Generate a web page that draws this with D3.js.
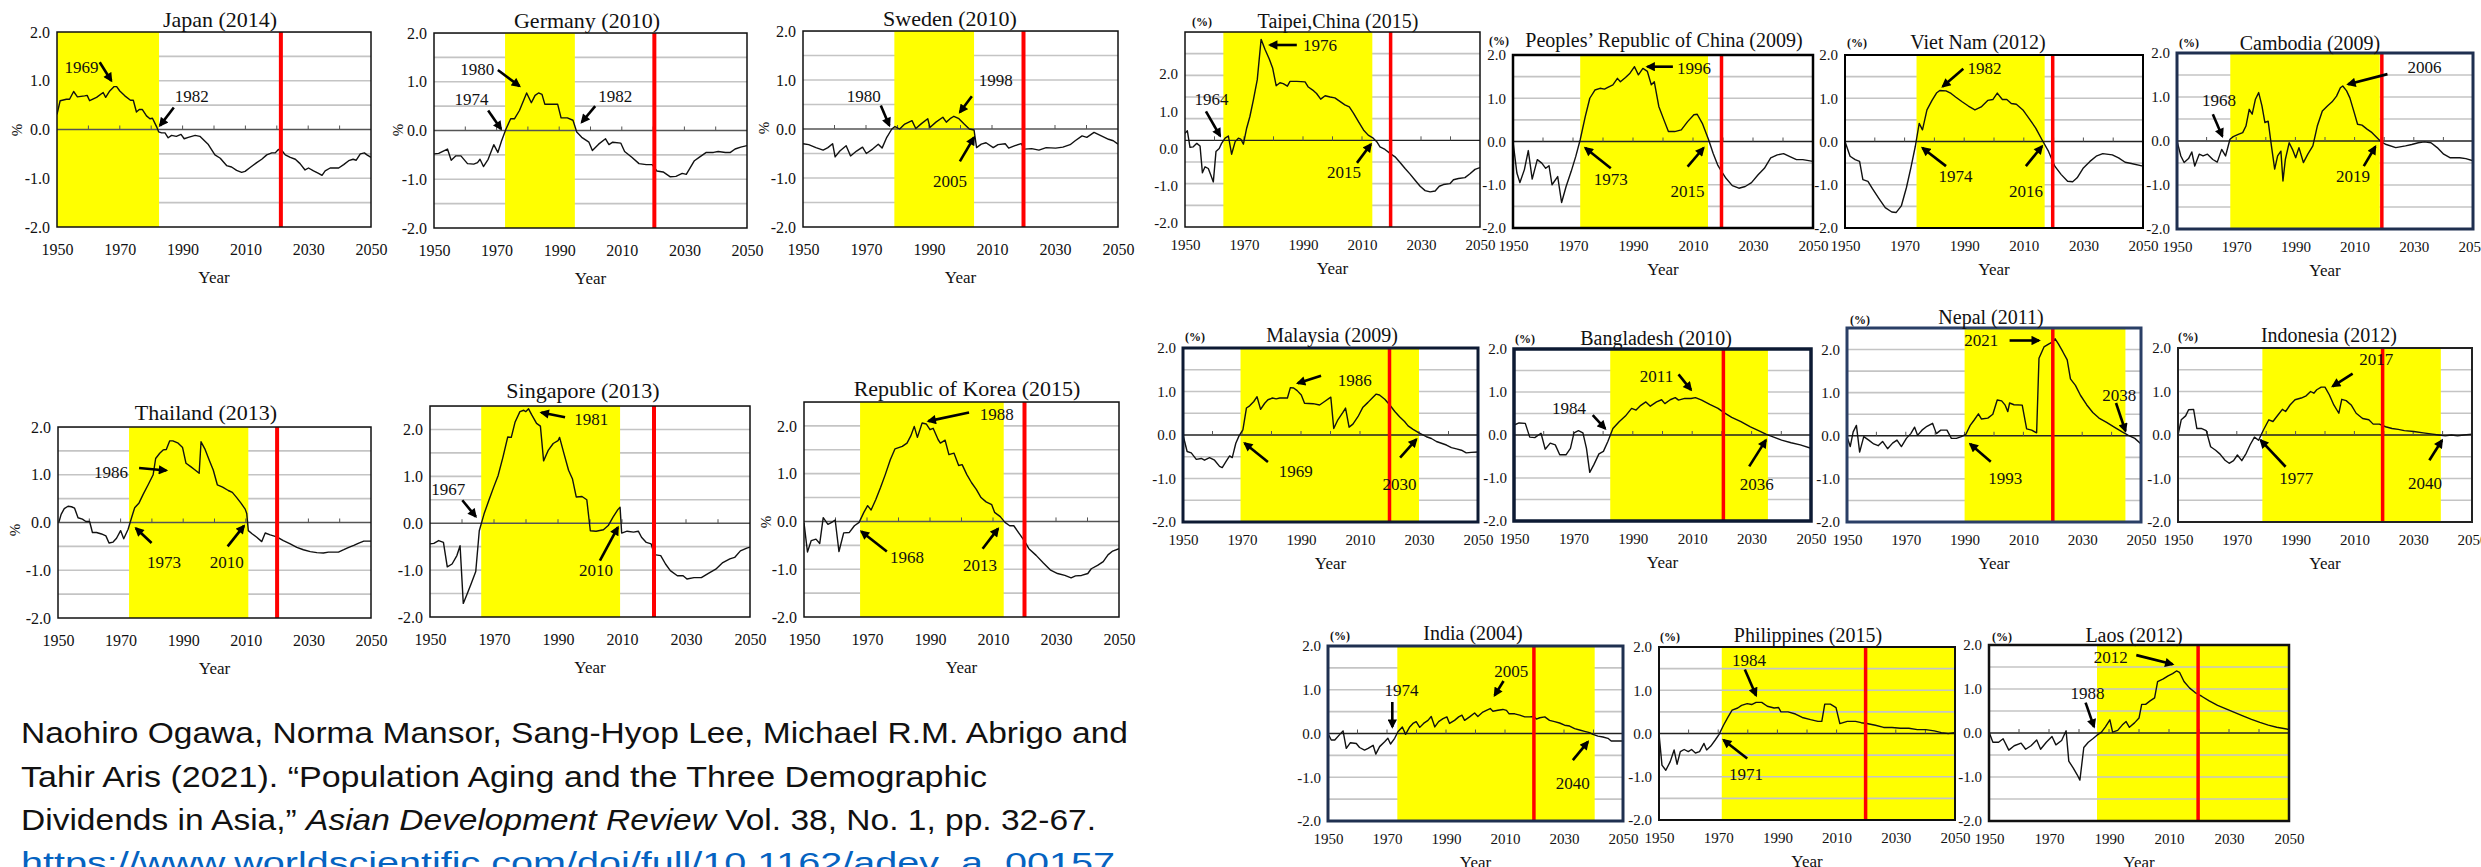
<!DOCTYPE html>
<html>
<head>
<meta charset="utf-8">
<script src="https://cdn.jsdelivr.net/npm/d3@7"></script>
<style>
  body { margin: 0; background: #fff; }
  svg { display: block; }
  text { font-family: 'Liberation Serif', 'Times New Roman', serif; fill: #111; }
</style>
</head>
<body>
<svg id="chart" width="2481" height="867"></svg>
<script>
// support ratio growth (%) by year
const japan = [[1950,0.31],[1951,0.59],[1953,0.62],[1954,0.62],[1955.3,0.78],[1956.5,0.67],[1958.8,0.69],[1959.6,0.7],[1960.4,0.59],[1962.6,0.66],[1964.7,0.76],[1965.5,0.66],[1966.8,0.79],[1968.2,0.88],[1969,0.88],[1970,0.79],[1971.6,0.69],[1973.4,0.6],[1974.3,0.6],[1975.3,0.36],[1976.2,0.41],[1977.2,0.41],[1978.5,0.28],[1979.6,0.22],[1980.4,0.23],[1981.7,0.06],[1982.4,-0.05],[1983.3,-0.07],[1984.4,-0.07],[1985.4,-0.17],[1986.5,-0.12],[1988,-0.14],[1989.5,-0.1],[1990.5,-0.19],[1991.8,-0.16],[1994,-0.12],[1995.5,-0.14],[1998.2,-0.31],[2000.3,-0.52],[2002,-0.59],[2004,-0.74],[2005.6,-0.77],[2007.2,-0.84],[2008.8,-0.88],[2009.9,-0.86],[2011.5,-0.78],[2013.6,-0.68],[2015.2,-0.61],[2016.8,-0.52],[2018.4,-0.48],[2019.5,-0.48],[2020.5,-0.41],[2021.6,-0.43],[2022.7,-0.52],[2024.3,-0.57],[2025.9,-0.61],[2027.4,-0.7],[2029,-0.83],[2030.1,-0.79],[2031.7,-0.85],[2033.3,-0.9],[2034.4,-0.94],[2035.4,-0.85],[2037,-0.79],[2039.7,-0.79],[2041.3,-0.72],[2042.9,-0.64],[2044.3,-0.61],[2045.3,-0.63],[2046.6,-0.5],[2047.9,-0.48],[2048.7,-0.52],[2050,-0.57]];
const germany = [[1950,-0.48],[1951.5,-0.47],[1954.3,-0.38],[1955.5,-0.61],[1957,-0.52],[1958.6,-0.52],[1960.7,-0.68],[1962.7,-0.69],[1963.9,-0.66],[1964.7,-0.59],[1965.8,-0.74],[1967.3,-0.59],[1969.1,-0.29],[1970.4,-0.45],[1971.6,-0.21],[1973,0.03],[1974.5,0.24],[1975.7,0.24],[1977.3,0.41],[1979.6,0.77],[1981.1,0.57],[1982.3,0.72],[1983.4,0.77],[1984.5,0.74],[1985.4,0.54],[1989.5,0.54],[1990.6,0.26],[1992.6,0.26],[1994.4,0.21],[1995.6,-0.03],[1997.2,-0.14],[1999.5,-0.24],[2000.6,-0.41],[2002.6,-0.28],[2004.8,-0.17],[2005.9,-0.29],[2007.1,-0.24],[2009.7,-0.26],[2010.9,-0.43],[2013.2,-0.55],[2015.5,-0.68],[2017.8,-0.7],[2019.7,-0.7],[2021.2,-0.83],[2023.2,-0.85],[2025.5,-0.95],[2027.3,-0.94],[2029.3,-0.88],[2030.6,-0.9],[2033.2,-0.62],[2034.7,-0.55],[2037,-0.45],[2039.3,-0.45],[2040.8,-0.43],[2043.1,-0.45],[2044.7,-0.45],[2046.2,-0.38],[2048,-0.34],[2050,-0.31]];
const sweden = [[1950,-0.3],[1951.8,-0.32],[1954.1,-0.38],[1956.4,-0.43],[1957.9,-0.38],[1959.4,-0.3],[1960.2,-0.57],[1961.7,-0.45],[1963.7,-0.34],[1965.1,-0.55],[1967,-0.45],[1968.9,-0.37],[1970.1,-0.5],[1972.1,-0.41],[1973.9,-0.31],[1975.1,-0.39],[1976.6,-0.17],[1978.2,0],[1979.2,0.05],[1980.7,0],[1982.3,0.1],[1984.6,0.17],[1985.8,0.01],[1987.6,0.11],[1989.6,0.21],[1990.3,0.03],[1992.2,0.14],[1994.4,0.24],[1995.5,0.14],[1996.7,0.21],[1997.9,0.26],[1999.5,0.21],[2001,0.11],[2002.8,0],[2004.3,-0.02],[2005.1,-0.38],[2006.6,-0.31],[2008.1,-0.28],[2010.4,-0.38],[2011.9,-0.32],[2014.2,-0.3],[2015.3,-0.39],[2017.3,-0.34],[2019.3,-0.3],[2020.3,-0.41],[2022.6,-0.4],[2024.9,-0.43],[2027.2,-0.38],[2030.2,-0.39],[2032.5,-0.37],[2034.8,-0.32],[2036.4,-0.24],[2038.6,-0.14],[2040.1,-0.17],[2042.4,-0.07],[2044.7,-0.14],[2047,-0.21],[2048.5,-0.24],[2050,-0.31]];
const thailand = [[1950.3,0.01],[1951,0.17],[1952,0.29],[1953.2,0.34],[1954.3,0.33],[1955.3,0.3],[1956.4,0.1],[1957.8,0.07],[1958.9,0.02],[1960.1,0.02],[1961,-0.21],[1962.3,-0.21],[1963.9,-0.24],[1965.3,-0.28],[1966.3,-0.43],[1967.6,-0.41],[1968.7,-0.33],[1970,-0.17],[1971,-0.34],[1972.4,-0.14],[1973.5,0.1],[1974.5,0.31],[1975.9,0.41],[1977.2,0.59],[1978.8,0.79],[1980.4,1],[1981.2,1.34],[1982.5,1.45],[1983.6,1.52],[1984.6,1.53],[1985.7,1.71],[1986.7,1.71],[1988.4,1.66],[1989.8,1.57],[1990.9,1.24],[1992.4,1.17],[1993.8,1.1],[1995.1,1.03],[1995.7,1.69],[1997,1.53],[1998.3,1.31],[1999.6,1.1],[2000.9,0.79],[2002.6,0.74],[2004.4,0.67],[2005.7,0.63],[2007.1,0.52],[2008.4,0.41],[2009.8,0.28],[2010.3,0.19],[2010.8,-0.17],[2012.1,-0.24],[2013.5,-0.31],[2015.1,-0.4],[2016.2,-0.22],[2017.8,-0.26],[2019.9,-0.3],[2022,-0.38],[2024.2,-0.45],[2026.3,-0.52],[2028.4,-0.57],[2030.6,-0.61],[2032.7,-0.63],[2034.8,-0.64],[2036.4,-0.62],[2039.6,-0.62],[2041.3,-0.57],[2042.9,-0.52],[2044.5,-0.48],[2046.1,-0.43],[2047.7,-0.39],[2050,-0.39]];
const singapore = [[1950,-0.44],[1951.2,-0.43],[1952.7,-0.37],[1954.2,-0.41],[1955.4,-0.93],[1956.9,-0.87],[1958.4,-0.69],[1959.4,-0.48],[1960.4,-1.71],[1961.6,-1.51],[1962.8,-1.3],[1964.3,-1.03],[1965.4,-0.16],[1966.9,0.2],[1968.4,0.49],[1969.9,0.77],[1971.3,1.02],[1972.8,1.41],[1974.3,1.84],[1975.4,1.83],[1976.6,2.16],[1978.1,2.38],[1979.3,2.41],[1979.9,2.38],[1980.8,2.44],[1981.8,2.31],[1983.3,2.13],[1984.5,2.07],[1985.5,1.33],[1987,1.56],[1988.5,1.7],[1990,1.76],[1990.5,1.83],[1991.8,1.5],[1993.3,1.13],[1994.5,0.95],[1995.7,0.56],[1997.5,0.57],[1999,0.5],[2000.1,-0.16],[2001.9,-0.17],[2004.2,-0.14],[2005.7,-0.05],[2007.2,0.13],[2008.7,0.29],[2009.4,0.34],[2009.9,-0.21],[2011.6,-0.17],[2013.6,-0.19],[2015.1,-0.17],[2016.1,-0.3],[2017.6,-0.41],[2019.1,-0.44],[2020.1,-0.67],[2022.1,-0.69],[2023.6,-0.87],[2025.1,-1.01],[2027.3,-1.12],[2029.1,-1.12],[2030.3,-1.19],[2032.5,-1.16],[2034.8,-1.16],[2037,-1.07],[2039.3,-0.98],[2041.5,-0.84],[2043.7,-0.76],[2045.2,-0.73],[2047,-0.59],[2049,-0.53],[2050,-0.51]];
const korea = [[1950,-0.03],[1951.1,-0.64],[1952.3,-0.4],[1953.8,-0.37],[1955,-0.46],[1956.1,0.08],[1957.6,-0.06],[1958.8,-0.02],[1959.9,0.03],[1961.1,-0.63],[1962.6,-0.24],[1964.4,-0.23],[1966,-0.09],[1967.5,-0.02],[1969,0.19],[1970.2,0.33],[1971.3,0.24],[1972.8,0.46],[1974.3,0.71],[1975.8,0.98],[1977.4,1.29],[1978.9,1.52],[1981.2,1.57],[1982.7,1.64],[1983.9,1.79],[1985,1.99],[1986,1.76],[1987.5,2.06],[1988.8,2.04],[1990,1.92],[1991,1.95],[1992.6,1.71],[1993.3,1.64],[1994.8,1.7],[1996,1.4],[1997.6,1.43],[1999.1,1.17],[2000.2,1.19],[2001.7,0.98],[2003.2,0.81],[2004.7,0.67],[2006.2,0.5],[2007.8,0.41],[2009.6,0.35],[2010.5,0.19],[2012.3,0.1],[2013.8,-0.02],[2015.3,-0.09],[2016.6,-0.09],[2018.4,-0.26],[2019.9,-0.4],[2021.4,-0.57],[2023.7,-0.71],[2026,-0.87],[2028.3,-1.02],[2030.5,-1.09],[2032.8,-1.13],[2034.8,-1.18],[2036.2,-1.14],[2038.1,-1.13],[2040.1,-1.09],[2041.2,-0.99],[2043.2,-0.92],[2045,-0.84],[2046.5,-0.7],[2048,-0.62],[2050,-0.57]];
const taipei = [[1950,0.16],[1950.8,0.22],[1951.7,-0.16],[1952.8,-0.15],[1954,-0.07],[1955.1,-0.13],[1955.9,-0.75],[1956.8,-0.61],[1957.9,-0.65],[1958.8,-0.81],[1959.6,-0.96],[1960.5,-0.26],[1961.6,-0.19],[1962.4,-0.07],[1963.6,0.05],[1964.7,0.1],[1965.8,-0.32],[1967,-0.03],[1968.1,0.05],[1968.9,0.03],[1969.8,-0.09],[1970.9,0.28],[1972,0.55],[1973.2,0.94],[1974.5,1.4],[1975.8,2.33],[1977.1,2.1],[1978.6,1.87],[1979.7,1.67],[1980.9,1.26],[1982.2,1.33],[1983.3,1.31],[1984.7,1.25],[1985.6,1.36],[1987.9,1.36],[1990.7,1.35],[1991.8,1.23],[1993.3,1.16],[1994.6,1.08],[1996,0.95],[1997.5,1.03],[1999.2,1],[2000.8,0.98],[2002.5,0.9],[2004.2,0.82],[2005.7,0.77],[2007.1,0.63],[2008.8,0.43],[2010.5,0.24],[2012.1,0.12],[2013.8,0.05],[2015,-0.03],[2016.1,-0.15],[2017.8,-0.21],[2019.5,-0.3],[2021.2,-0.38],[2022.9,-0.51],[2024.6,-0.65],[2026.3,-0.78],[2028,-0.92],[2029.7,-1.06],[2031.4,-1.16],[2033.1,-1.19],[2034.8,-1.17],[2036.2,-1.06],[2037.6,-1.02],[2039.8,-1],[2041,-0.91],[2042.7,-0.88],[2044.9,-0.86],[2046.6,-0.77],[2048.3,-0.67],[2050,-0.63]];
const china = [[1950,0],[1951.3,-0.73],[1952.3,-0.95],[1953.8,-0.65],[1955.1,-0.21],[1956.4,-0.87],[1958.1,-0.42],[1959.6,-0.5],[1960.9,-0.62],[1962,-0.56],[1963,-1],[1964.9,-0.81],[1966.2,-1.41],[1967.7,-1.04],[1969.4,-0.69],[1970.9,-0.35],[1972.4,0.04],[1974.1,0.58],[1975.6,1],[1977.3,1.19],[1979,1.23],[1980.5,1.21],[1981.6,1.25],[1983.3,1.31],[1984.8,1.46],[1985.8,1.38],[1987.5,1.48],[1989,1.58],[1990.5,1.73],[1991.8,1.54],[1993.3,1.69],[1994.8,1.62],[1996.1,1.31],[1997.1,1.38],[1998.6,0.81],[2000.3,0.5],[2001.8,0.23],[2003.9,0.23],[2006.1,0.27],[2008.2,0.46],[2010.3,0.62],[2011.4,0.63],[2013.1,0.42],[2015.2,0.04],[2016.7,-0.27],[2018.2,-0.54],[2019.5,-0.69],[2021,-0.85],[2023.1,-1.02],[2025.3,-1.08],[2027.4,-1.04],[2029.5,-0.95],[2031.7,-0.77],[2033.8,-0.62],[2035.9,-0.38],[2038.1,-0.31],[2040.2,-0.28],[2042.3,-0.35],[2044.5,-0.42],[2046.6,-0.42],[2050,-0.46]];
const vietnam = [[1950,0],[1951.7,-0.34],[1953.4,-0.42],[1954.9,-0.46],[1956,-0.88],[1957.7,-0.92],[1959.2,-1.09],[1961.4,-1.32],[1963.5,-1.53],[1965.7,-1.63],[1967.2,-1.64],[1968.9,-1.49],[1970.6,-1.07],[1972.1,-0.61],[1973.6,-0.11],[1974.9,0.42],[1976,0.27],[1977.5,0.73],[1979.2,0.95],[1980.7,1.12],[1981.8,1.18],[1983.9,1.17],[1985.6,1.11],[1987.1,1.03],[1989.3,0.92],[1991.4,0.82],[1993.6,0.73],[1995.7,0.8],[1997.9,0.95],[1999.6,0.97],[2001.1,1.12],[2002.8,0.97],[2004.3,0.97],[2005.8,0.88],[2007.5,0.86],[2009.7,0.73],[2011.8,0.53],[2014,0.31],[2016.1,0.04],[2018.3,-0.23],[2020.4,-0.57],[2022.5,-0.76],[2024.7,-0.92],[2026.4,-0.93],[2027.9,-0.84],[2030,-0.61],[2032.2,-0.46],[2034.3,-0.34],[2036.5,-0.28],[2039.7,-0.31],[2041.8,-0.38],[2044,-0.48],[2046.1,-0.51],[2050,-0.57]];
const cambodia = [[1950,0],[1951.3,-0.34],[1952.4,-0.49],[1953.9,-0.4],[1955,-0.25],[1956,-0.57],[1957.5,-0.3],[1958.8,-0.34],[1960.3,-0.3],[1962.1,-0.42],[1963.6,-0.48],[1965.1,-0.19],[1966.4,-0.34],[1967.9,0.04],[1969,0.1],[1970.7,0.15],[1972.2,0.19],[1973.3,0.34],[1974.4,0.72],[1975.4,0.61],[1976.5,0.95],[1977.6,1.1],[1978.7,0.8],[1979.7,0.42],[1980.8,0.45],[1981.9,-0.11],[1983,-0.64],[1984,-0.34],[1985.1,-0.23],[1985.8,-0.91],[1986.6,-0.42],[1987.9,-0.04],[1989,-0.19],[1990.1,-0.38],[1991.2,-0.15],[1992.7,-0.49],[1994.2,-0.3],[1995.9,-0.11],[1997.4,0.34],[1999.1,0.68],[2000.9,0.8],[2002.4,0.89],[2003.9,1.02],[2005.2,1.21],[2006,1.25],[2007.3,1.14],[2008.4,0.98],[2009.9,0.64],[2011,0.38],[2012.5,0.36],[2014.2,0.27],[2015.9,0.19],[2017.5,0.08],[2019,-0.02],[2020.7,-0.08],[2023.9,-0.15],[2027.2,-0.11],[2029.3,-0.08],[2031.5,-0.04],[2033.6,-0.02],[2035.8,-0.04],[2037.9,-0.15],[2040.1,-0.3],[2042.2,-0.38],[2045.5,-0.38],[2047.6,-0.4],[2050,-0.45]];
const malaysia = [[1950,0],[1951.4,-0.38],[1952.8,-0.41],[1954.5,-0.56],[1956.2,-0.54],[1957.3,-0.58],[1959,-0.52],[1960.7,-0.58],[1962.4,-0.72],[1963.3,-0.75],[1964.5,-0.62],[1965.8,-0.48],[1966.7,-0.52],[1967.9,-0.19],[1969,-0.02],[1970.3,0.12],[1971.5,0.62],[1972.6,0.67],[1974,0.77],[1975.1,0.88],[1976.3,0.59],[1977.7,0.73],[1978.8,0.81],[1980.3,0.85],[1981.6,0.83],[1982.8,0.85],[1985.4,0.85],[1986.4,1.09],[1987.5,1.08],[1988.7,1.02],[1990.1,0.92],[1991.2,0.73],[1994.1,0.72],[1996.3,0.69],[1998,0.77],[2000.1,0.87],[2001.1,0.15],[2002.5,0.35],[2004.2,0.52],[2005.1,0.62],[2006.3,0.18],[2007.6,0.25],[2009.3,0.42],[2011,0.64],[2012.7,0.75],[2014.4,0.87],[2015.5,0.94],[2016.6,0.92],[2018.4,0.82],[2020.1,0.69],[2021.8,0.54],[2023.4,0.42],[2025.1,0.31],[2026.3,0.21],[2028,0.13],[2029.7,0.06],[2030.8,0.02],[2032.5,-0.04],[2034.2,-0.08],[2035.9,-0.15],[2037.6,-0.19],[2039.3,-0.23],[2041,-0.29],[2042.7,-0.32],[2044.4,-0.35],[2046,-0.41],[2047.7,-0.4],[2050,-0.39]];
const bangladesh = [[1950,0.23],[1951.7,0.28],[1953.8,0.27],[1955.3,-0.05],[1957,-0.06],[1959.1,0.04],[1960.5,-0.33],[1962.2,-0.19],[1963.9,-0.23],[1965.4,-0.46],[1967.5,-0.46],[1969,-0.31],[1970.2,0.05],[1971.7,0.1],[1973.2,0.05],[1974.4,-0.31],[1975.5,-0.87],[1976.9,-0.69],[1978.6,-0.44],[1980.1,-0.38],[1981.6,-0.15],[1983.3,0.15],[1985.4,0.31],[1987.5,0.44],[1989.6,0.62],[1991.1,0.58],[1992.7,0.69],[1994.4,0.77],[1995.9,0.67],[1998,0.77],[1999.7,0.82],[2000.8,0.73],[2002.6,0.82],[2004.3,0.87],[2005.4,0.81],[2007.5,0.85],[2009.6,0.85],[2011.1,0.87],[2013.2,0.81],[2015.9,0.71],[2018.7,0.62],[2020.7,0.52],[2023.3,0.41],[2026.4,0.31],[2029.6,0.19],[2032.7,0.09],[2034.8,0.02],[2037,-0.04],[2040.1,-0.12],[2043.3,-0.18],[2046.4,-0.23],[2050,-0.31]];
const nepal = [[1950,-0.02],[1951.1,-0.25],[1952.1,0.09],[1953.2,0.24],[1954.3,-0.38],[1955.7,-0.02],[1957.4,-0.1],[1959.1,-0.19],[1960.6,-0.23],[1962.1,-0.13],[1963.8,-0.3],[1965.5,-0.17],[1967,-0.1],[1968.5,-0.25],[1970.2,-0.06],[1971.7,0.05],[1973,0.2],[1974,0.01],[1975.5,0.13],[1977.2,0.22],[1979.1,0.29],[1980.4,0.05],[1981.9,0.13],[1984,0.13],[1985.5,-0.06],[1987.2,-0.06],[1988.9,-0.02],[1990.4,0.03],[1991.9,0.24],[1993.2,0.36],[1994.7,0.51],[1995.7,0.39],[1997.9,0.41],[1999.6,0.5],[2001.1,0.83],[2002.6,0.81],[2003.8,0.71],[2004.7,0.56],[2005.3,0.76],[2006.8,0.72],[2009.6,0.71],[2011.1,0.16],[2012.8,0.13],[2014.5,0.07],[2015.3,1.8],[2017,2.06],[2018.7,2.13],[2019.8,2.17],[2020.8,2.25],[2021.9,2.13],[2023.4,1.95],[2024.9,1.76],[2026,1.32],[2027.7,1.17],[2029.4,0.94],[2031.5,0.72],[2033.6,0.54],[2035.7,0.41],[2038.3,0.31],[2040.9,0.2],[2043.6,0.09],[2045.7,0.01],[2047.9,-0.06],[2050,-0.19]];
const indonesia = [[1950,0],[1951.1,0.35],[1952.6,0.44],[1953.6,0.58],[1955.3,0.59],[1956.4,0.15],[1957.9,0.15],[1959.6,0.1],[1961.1,-0.27],[1962.8,-0.35],[1964.3,-0.44],[1966,-0.58],[1967.4,-0.65],[1968.9,-0.59],[1970.2,-0.46],[1971.7,-0.59],[1973.2,-0.42],[1974.5,-0.23],[1976,-0.05],[1977.4,-0.12],[1979.1,0.12],[1980.9,0.35],[1982.3,0.31],[1984,0.46],[1985.5,0.59],[1986.6,0.54],[1988.1,0.69],[1989.8,0.81],[1991.9,0.85],[1993.6,0.9],[1995.1,1],[1996.2,0.96],[1997.2,1.04],[1998.7,1.1],[2000,1.1],[2001.5,0.92],[2003,0.69],[2004.7,0.5],[2005.7,0.82],[2007.2,0.79],[2008.9,0.69],[2010.6,0.5],[2012.8,0.38],[2014.9,0.35],[2016.4,0.25],[2018.5,0.25],[2020.6,0.19],[2022.8,0.15],[2024.9,0.13],[2027,0.1],[2030.2,0.08],[2033.4,0.05],[2036.6,0.02],[2038.7,0],[2040.9,-0.02],[2043,0],[2045.1,-0.02],[2047.2,0],[2050,0.02]];
const india = [[1950,0],[1951.1,-0.15],[1952.3,-0.15],[1954,-0.02],[1955.1,0.06],[1956.2,-0.34],[1957.6,-0.21],[1959.6,-0.23],[1960.7,-0.32],[1962.4,-0.38],[1963.6,-0.34],[1965.3,-0.27],[1966.2,-0.47],[1967.5,-0.3],[1969.2,-0.19],[1970.3,-0.11],[1971.2,-0.24],[1972.6,-0.11],[1973.7,0.04],[1975.2,0.15],[1976.3,-0.02],[1977.7,0.15],[1978.8,0.23],[1979.9,0.27],[1981.1,0.14],[1982.4,0.23],[1983.9,0.3],[1985,0.39],[1986.2,0.15],[1987.5,0.27],[1989,0.34],[1990.3,0.38],[1991.2,0.23],[1992.9,0.3],[1994.3,0.38],[1995.4,0.42],[1996.3,0.3],[1998,0.38],[1999.7,0.47],[2000.8,0.39],[2002.5,0.49],[2003.7,0.53],[2005,0.57],[2005.9,0.51],[2007.6,0.53],[2009.3,0.55],[2010.5,0.53],[2011.4,0.45],[2013.3,0.45],[2015,0.42],[2016.7,0.38],[2018.4,0.38],[2019.8,0.39],[2020.6,0.33],[2021.8,0.36],[2023.5,0.38],[2025.1,0.3],[2026.8,0.27],[2028.5,0.24],[2030.2,0.19],[2031.9,0.17],[2033.6,0.11],[2035.3,0.08],[2037,0.05],[2038.7,0.02],[2039.8,-0.02],[2041.5,-0.06],[2043.2,-0.08],[2044.9,-0.11],[2046,-0.17],[2047.7,-0.17],[2050,-0.17]];
const philippines = [[1950,0],[1951,-0.73],[1952.3,-0.85],[1953.8,-0.65],[1955.1,-0.38],[1956.1,-0.71],[1957.2,-0.42],[1958.5,-0.37],[1959.9,-0.42],[1961,-0.37],[1962.3,-0.45],[1963.7,-0.42],[1965.2,-0.23],[1966.1,-0.38],[1967.5,-0.29],[1969,-0.15],[1970.3,-0.02],[1971.8,0.19],[1973.3,0.38],[1974.7,0.54],[1976.6,0.59],[1977.9,0.65],[1979.8,0.69],[1981.3,0.67],[1982.8,0.72],[1984.7,0.72],[1986.6,0.63],[1988.9,0.59],[1990.4,0.6],[1991.2,0.5],[1993.6,0.5],[1996.1,0.45],[1998.4,0.37],[2001.2,0.32],[2003.7,0.28],[2005,0.28],[2006,0.68],[2007.9,0.68],[2009.8,0.6],[2011.1,0.23],[2013.6,0.28],[2016.4,0.28],[2018.3,0.25],[2020.2,0.23],[2023.1,0.19],[2025.9,0.14],[2028.7,0.14],[2031.6,0.12],[2034.4,0.12],[2037.3,0.09],[2040.1,0.09],[2043,0.06],[2045.4,0.02],[2047.7,0],[2050,0.02]];
const laos = [[1950,0.02],[1951.3,-0.21],[1953.2,-0.21],[1954.7,-0.13],[1956.6,-0.39],[1958.4,-0.29],[1960.7,-0.23],[1962.2,-0.37],[1964,-0.29],[1965.9,-0.16],[1967.2,-0.37],[1969.1,-0.21],[1971,-0.08],[1972.3,-0.27],[1974.2,-0.17],[1975.7,0.05],[1976.6,-0.64],[1978.1,-0.8],[1979.4,-0.95],[1980.3,-1.07],[1981.6,-0.33],[1983.1,-0.21],[1984.6,-0.13],[1986,-0.05],[1987.5,0.02],[1988.8,0.14],[1990.3,0.3],[1991.2,0.02],[1992.9,0.06],[1994.4,0.18],[1995.7,0.26],[1996.8,0.13],[1998.5,0.23],[2000,0.34],[2000.9,0.65],[2002.2,0.65],[2003.7,0.73],[2005.2,0.8],[2006.2,1.17],[2008.1,1.23],[2009.7,1.3],[2011.2,1.35],[2012.5,1.41],[2013.5,1.38],[2015,1.17],[2016.9,1.02],[2018.7,0.92],[2021,0.83],[2023.4,0.73],[2026.2,0.63],[2029,0.55],[2031.8,0.47],[2034.6,0.39],[2037.5,0.31],[2040.3,0.24],[2043.1,0.18],[2045.9,0.13],[2050,0.08]];

const xTickYears = [1950, 1970, 1990, 2010, 2030, 2050];
const yTickValues = [-2, -1, 0, 1, 2];
const decadeYears = [1960, 1970, 1980, 1990, 2000, 2010, 2020, 2030, 2040];

// annotation rows: label, text year, text value, arrow from year, value, arrow to year, value
const panels = [
  { title: 'Japan (2014)', series: japan, span: [1950, 1982.5], red: 2021.3, top: 2, side: 'L',
    box: [57, 32, 371, 227], tx: 220, ty: 19, pct: [17, 130], border: ['#111', 1.5],
    notes: [['1969', 1957.8, 1.28, 1963.6, 1.38, 1967.3, 1.0], ['1982', 1992.9, 0.68, 1987.2, 0.45, 1982.8, 0.08]] },
  { title: 'Germany (2010)', series: germany, span: [1972.7, 1995], red: 2020.4, top: 2, side: 'L',
    box: [434, 33, 747, 228], tx: 587, ty: 20, pct: [398, 130], border: ['#111', 1.5],
    notes: [['1974', 1962, 0.64, 1967.3, 0.41, 1971.4, 0.03], ['1980', 1963.8, 1.26, 1970.4, 1.24, 1977.3, 0.91], ['1982', 2007.9, 0.69, 2001.5, 0.5, 1997.2, 0.17]] },
  { title: 'Sweden (2010)', series: sweden, span: [1979, 2004.3], red: 2020, top: 2, side: 'L',
    box: [803, 31, 1118, 227], tx: 950, ty: 18, pct: [764, 128], border: ['#111', 1.5],
    notes: [['1980', 1969.3, 0.66, 1974.7, 0.48, 1977.4, 0.07], ['1998', 2011.2, 1.0, 2003.6, 0.67, 1999.8, 0.34], ['2005', 1996.7, -1.07, 1999.8, -0.66, 2004.3, -0.17]] },
  { title: 'Thailand (2013)', series: thailand, span: [1972.7, 2010.8], red: 2020, top: 2, side: 'L',
    box: [58, 427, 371, 618], tx: 206, ty: 412, pct: [15, 530], border: ['#111', 1.5],
    notes: [['1986', 1966.9, 1.05, 1975.9, 1.14, 1984.6, 1.09], ['1973', 1983.9, -0.84, 1979.9, -0.43, 1974.9, -0.12], ['2010', 2003.9, -0.84, 2004.2, -0.5, 2009.4, -0.07]] },
  { title: 'Singapore (2013)', series: singapore, span: [1966, 2009.4], red: 2020, top: 2.5, side: 'L',
    box: [430, 406, 750, 617], tx: 583, ty: 390, pct: null, border: ['#111', 1.5],
    notes: [['1967', 1955.7, 0.71, 1960.1, 0.49, 1964.3, 0.14], ['1981', 2000.4, 2.21, 1992.2, 2.26, 1984.8, 2.36], ['2010', 2001.9, -1.0, 2003.1, -0.8, 2008.7, -0.09]] },
  { title: 'Republic of Korea (2015)', series: korea, span: [1967.8, 2013.4], red: 2020, top: 2.5, side: 'L',
    box: [804, 402, 1119, 617], tx: 967, ty: 388, pct: [766, 522], border: ['#111', 1.5],
    notes: [['1988', 2011.2, 2.23, 2002.4, 2.28, 1989.5, 2.1], ['1968', 1982.7, -0.75, 1976.3, -0.63, 1968.2, -0.21], ['2013', 2005.9, -0.93, 2006.7, -0.57, 2011.6, -0.15]] },
  { title: 'Taipei,China (2015)', series: taipei, span: [1963, 2013.5], red: 2019.7, top: 2.5, side: 'R',
    box: [1185, 32, 1480, 227], tx: 1338, ty: 21, pct: [1202, 22], border: ['#111', 1.5], labelRange: [223, 74],
    notes: [['1976', 1995.8, 2.18, 1987.9, 2.2, 1978.8, 2.2], ['1964', 1959, 0.95, 1957.1, 0.67, 1961.9, 0.1], ['2015', 2003.9, -0.75, 2008.3, -0.52, 2013, -0.09]] },
  { title: 'Peoples\u2019 Republic of China (2009)', series: china, span: [1972.4, 2015], red: 2019.5, top: 2, side: 'R',
    box: [1513, 55, 1813, 228], tx: 1664, ty: 40, pct: [1499, 41], border: ['#000', 2.5],
    notes: [['1996', 2010.3, 1.69, 2003.3, 1.73, 1994.8, 1.73], ['1973', 1982.6, -0.88, 1982.6, -0.62, 1974.1, -0.15], ['2015', 2008.2, -1.15, 2008.2, -0.58, 2013.5, -0.15]] },
  { title: 'Viet Nam (2012)', series: vietnam, span: [1974, 2017], red: 2019.7, top: 2, side: 'R',
    box: [1845, 55, 2143, 228], tx: 1978, ty: 42, pct: [1857, 43], border: ['#000', 2],
    notes: [['1982', 1996.8, 1.68, 1989.7, 1.68, 1982.8, 1.27], ['1974', 1987.1, -0.82, 1983.9, -0.57, 1976, -0.15], ['2016', 2010.7, -1.15, 2010.7, -0.57, 2016.1, -0.11]] },
  { title: 'Cambodia (2009)', series: cambodia, span: [1968, 2018.5], red: 2019.2, top: 2, side: 'R',
    box: [2177, 53, 2473, 229], tx: 2310, ty: 43, pct: [2189, 43], border: ['#1f2f50', 3],
    notes: [['2006', 2033.6, 1.67, 2021.1, 1.52, 2007.8, 1.29], ['1968', 1964.2, 0.91, 1962.1, 0.61, 1965.3, 0.11], ['2019', 2009.5, -0.8, 2013.1, -0.57, 2017, -0.13]] },
  { title: 'Malaysia (2009)', series: malaysia, span: [1969.5, 2030], red: 2020, top: 2, side: 'R',
    box: [1183, 348, 1478, 522], tx: 1332, ty: 335, pct: [1195, 337], border: ['#0d1a33', 3],
    notes: [['1986', 2008.2, 1.25, 1996.8, 1.36, 1988.9, 1.19], ['1969', 1988.2, -0.85, 1978.8, -0.62, 1970.9, -0.19], ['2030', 2023.4, -1.13, 2023.6, -0.52, 2029.1, -0.1]] },
  { title: 'Bangladesh (2010)', series: bangladesh, span: [1982.4, 2035.5], red: 2020.5, top: 2, side: 'R',
    box: [1514, 349, 1811, 521], tx: 1656, ty: 338, pct: [1525, 339], border: ['#0d1a33', 3.5],
    notes: [['1984', 1968.5, 0.62, 1976.5, 0.46, 1980.7, 0.15], ['2011', 1998, 1.35, 2005.4, 1.41, 2009.6, 1.05], ['2036', 2031.7, -1.15, 2029.2, -0.73, 2034.8, -0.12]] },
  { title: 'Nepal (2011)', series: nepal, span: [1990, 2044.7], red: 2020, top: 2.5, side: 'R',
    box: [1847, 328, 2141, 522], tx: 1991, ty: 317, pct: [1860, 320], border: ['#2a3f66', 3],
    notes: [['2021', 1995.7, 2.21, 2005.3, 2.21, 2015.3, 2.21], ['1993', 2003.8, -0.99, 1998.9, -0.6, 1991.9, -0.19], ['2038', 2042.6, 0.94, 2041.5, 0.76, 2044.7, 0.11]] },
  { title: 'Indonesia (2012)', series: indonesia, span: [1978.7, 2039.4], red: 2019.6, top: 2, side: 'R',
    box: [2178, 348, 2472, 522], tx: 2329, ty: 335, pct: [2188, 337], border: ['#222', 2],
    notes: [['2017', 2017.4, 1.73, 2009.4, 1.41, 2002.6, 1.12], ['1977', 1990.2, -1.0, 1986.6, -0.73, 1978.1, -0.12], ['2040', 2034, -1.12, 2035.5, -0.58, 2039.8, -0.12]] },
  { title: 'India (2004)', series: india, span: [1973.5, 2040.4], red: 2019.8, top: 2, side: 'R',
    box: [1328, 646, 1623, 821], tx: 1473, ty: 633, pct: [1340, 636], border: ['#1f3050', 3],
    notes: [['1974', 1974.9, 0.98, 1971.8, 0.72, 1971.8, 0.15], ['2005', 2012.1, 1.42, 2009.5, 1.2, 2006.5, 0.87], ['2040', 2033, -1.15, 2033, -0.61, 2038.1, -0.19]] },
  { title: 'Philippines (2015)', series: philippines, span: [1971.2, 2050], red: 2019.8, top: 2, side: 'R', gridOver: true,
    box: [1659, 647, 1955, 820], tx: 1808, ty: 635, pct: [1670, 637], border: ['#111', 2],
    notes: [['1984', 1980.4, 1.69, 1979, 1.48, 1982.8, 0.88], ['1971', 1979.4, -0.94, 1979.8, -0.58, 1971.8, -0.15]] },
  { title: 'Laos (2012)', series: laos, span: [1986, 2050], red: 2019.7, top: 2, side: 'R', gridOver: true,
    box: [1989, 645, 2289, 821], tx: 2134, ty: 635, pct: [2002, 637], border: ['#111', 2.5],
    notes: [['2012', 1990.6, 1.72, 1999.1, 1.77, 2011.2, 1.56], ['1988', 1982.8, 0.9, 1982.2, 0.69, 1985, 0.14]] }
];

const svg = d3.select('#chart');
const defs = svg.append('defs');
defs.append('marker')
  .attr('id', 'head')
  .attr('viewBox', '0 0 10 10')
  .attr('refX', 8)
  .attr('refY', 5)
  .attr('markerWidth', 4)
  .attr('markerHeight', 3.6)
  .attr('orient', 'auto')
  .append('path')
  .attr('d', 'M0,0L10,5L0,10z')
  .attr('fill', '#000');

function drawPanel(p, i) {
  const [x0, y0, x1, y1] = p.box;
  const left = p.side === 'L';
  const x = d3.scaleLinear().domain([1950, 2050]).range([x0, x1]);
  const y = d3.scaleLinear().domain([-2, p.top]).range([y1, y0]);
  const g = svg.append('g').attr('class', 'panel');

  defs.append('clipPath').attr('id', 'clip' + i)
    .append('rect').attr('x', x0).attr('y', y0).attr('width', x1 - x0).attr('height', y1 - y0);
  const plot = g.append('g').attr('clip-path', `url(#clip${i})`);

  plot.append('rect')
    .attr('x', x0).attr('y', y0).attr('width', x1 - x0).attr('height', y1 - y0)
    .attr('fill', '#fff');

  const grid = d3.range(-1.5, p.top + 0.01, 0.5).filter(v => v !== 0);
  const drawGrid = () => plot.selectAll(null).data(grid).enter().append('line')
    .attr('x1', x0).attr('x2', x1)
    .attr('y1', d => y(d)).attr('y2', d => y(d))
    .attr('stroke', '#c4c4c4').attr('stroke-width', 1.6);

  if (!p.gridOver) drawGrid();
  plot.append('rect')
    .attr('x', x(p.span[0])).attr('y', y0)
    .attr('width', x(p.span[1]) - x(p.span[0])).attr('height', y1 - y0)
    .attr('fill', '#ffff00');
  if (p.gridOver) drawGrid();

  // zero line with decade ticks
  plot.append('line')
    .attr('x1', x0).attr('x2', x1).attr('y1', y(0)).attr('y2', y(0))
    .attr('stroke', left ? '#555' : '#222').attr('stroke-width', 1.4);
  plot.selectAll(null).data(decadeYears).enter().append('line')
    .attr('x1', d => x(d)).attr('x2', d => x(d))
    .attr('y1', y(0)).attr('y2', y(0) - 4)
    .attr('stroke', '#555').attr('stroke-width', 1);

  const line = d3.line().x(d => x(d[0])).y(d => y(d[1]));
  plot.append('path').datum(p.series)
    .attr('d', line)
    .attr('fill', 'none').attr('stroke', '#111').attr('stroke-width', 1.4)
    .attr('stroke-linejoin', 'round');

  plot.append('line')
    .attr('x1', x(p.red)).attr('x2', x(p.red)).attr('y1', y0).attr('y2', y1)
    .attr('stroke', '#ff0000').attr('stroke-width', left ? 4 : 3.5);

  g.append('rect')
    .attr('x', x0).attr('y', y0).attr('width', x1 - x0).attr('height', y1 - y0)
    .attr('fill', 'none').attr('stroke', p.border[0]).attr('stroke-width', p.border[1]);

  // y axis labels
  const labelScale = p.labelRange ? d3.scaleLinear().domain([-2, 2]).range(p.labelRange) : y;
  const yAxis = g.append('g')
    .attr('transform', `translate(${x0},0)`)
    .call(d3.axisLeft(labelScale).tickValues(yTickValues).tickSize(0).tickPadding(7)
      .tickFormat(d => d.toFixed(1)));
  yAxis.select('.domain').remove();
  yAxis.selectAll('text')
    .attr('font-family', "'Liberation Serif', serif")
    .attr('font-size', left ? 16 : 15)
    .attr('fill', '#222');

  // x axis labels
  const xAxis = g.append('g')
    .attr('transform', `translate(0,${y1})`)
    .call(d3.axisBottom(x).tickValues(xTickYears).tickSize(0).tickFormat(d3.format('d')));
  xAxis.select('.domain').remove();
  xAxis.selectAll('text')
    .attr('y', left ? 22 : 18).attr('dy', '0.35em')
    .attr('font-family', "'Liberation Serif', serif")
    .attr('font-size', left ? 16 : 15)
    .attr('fill', '#222');

  g.append('text')
    .attr('x', (x0 + x1) / 2).attr('y', y1 + (left ? 50 : 41))
    .attr('text-anchor', 'middle').attr('dominant-baseline', 'central')
    .attr('font-size', 17)
    .text('Year');

  g.append('text')
    .attr('x', p.tx).attr('y', p.ty)
    .attr('text-anchor', 'middle').attr('dominant-baseline', 'central')
    .attr('font-size', left ? 22 : 20)
    .text(p.title);

  if (p.pct) {
    if (left) {
      g.append('text')
        .attr('transform', `translate(${p.pct[0]},${p.pct[1]}) rotate(-90)`)
        .attr('text-anchor', 'middle').attr('dominant-baseline', 'central')
        .attr('font-size', 15).attr('fill', '#333')
        .text('%');
    } else {
      g.append('text')
        .attr('x', p.pct[0]).attr('y', p.pct[1])
        .attr('text-anchor', 'middle').attr('dominant-baseline', 'central')
        .attr('font-size', 12).attr('font-weight', 'bold').attr('fill', '#222')
        .text('(%)');
    }
  }

  // arrows and year labels
  p.notes.forEach(n => {
    g.append('line')
      .attr('x1', x(n[3])).attr('y1', y(n[4]))
      .attr('x2', x(n[5])).attr('y2', y(n[6]))
      .attr('stroke', '#000').attr('stroke-width', 2.6)
      .attr('marker-end', 'url(#head)');
    g.append('text')
      .attr('x', x(n[1])).attr('y', y(n[2]))
      .attr('text-anchor', 'middle').attr('dominant-baseline', 'central')
      .attr('font-size', 17)
      .text(n[0]);
  });
}

panels.forEach(drawPanel);

// source note
const cite = svg.append('g')
  .attr('font-family', "'Liberation Sans Narrow', 'Liberation Sans', sans-serif")
  .attr('font-size', 29);
cite.append('text').attr('x', 21).attr('y', 743)
  .attr('textLength', 1107).attr('lengthAdjust', 'spacingAndGlyphs')
  .style('font-family', "'Liberation Sans Narrow', 'Liberation Sans', sans-serif")
  .text('Naohiro Ogawa, Norma Mansor, Sang-Hyop Lee, Michael R.M. Abrigo and');
cite.append('text').attr('x', 21).attr('y', 787)
  .attr('textLength', 966).attr('lengthAdjust', 'spacingAndGlyphs')
  .style('font-family', "'Liberation Sans Narrow', 'Liberation Sans', sans-serif")
  .text('Tahir Aris (2021). \u201cPopulation Aging and the Three Demographic');
const l3 = cite.append('text').attr('x', 21).attr('y', 830)
  .attr('textLength', 1075).attr('lengthAdjust', 'spacingAndGlyphs')
  .style('font-family', "'Liberation Sans Narrow', 'Liberation Sans', sans-serif");
l3.append('tspan').text('Dividends in Asia,\u201d ');
l3.append('tspan').attr('font-style', 'italic').text('Asian Development Review');
l3.append('tspan').text(' Vol. 38, No. 1, pp. 32-67.');
cite.append('text').attr('x', 21).attr('y', 873)
  .attr('textLength', 1094).attr('lengthAdjust', 'spacingAndGlyphs')
  .style('font-family', "'Liberation Sans Narrow', 'Liberation Sans', sans-serif")
  .style('fill', '#0563c1')
  .attr('text-decoration', 'underline')
  .text('https://www.worldscientific.com/doi/full/10.1162/adev_a_00157');
</script>
</body>
</html>
